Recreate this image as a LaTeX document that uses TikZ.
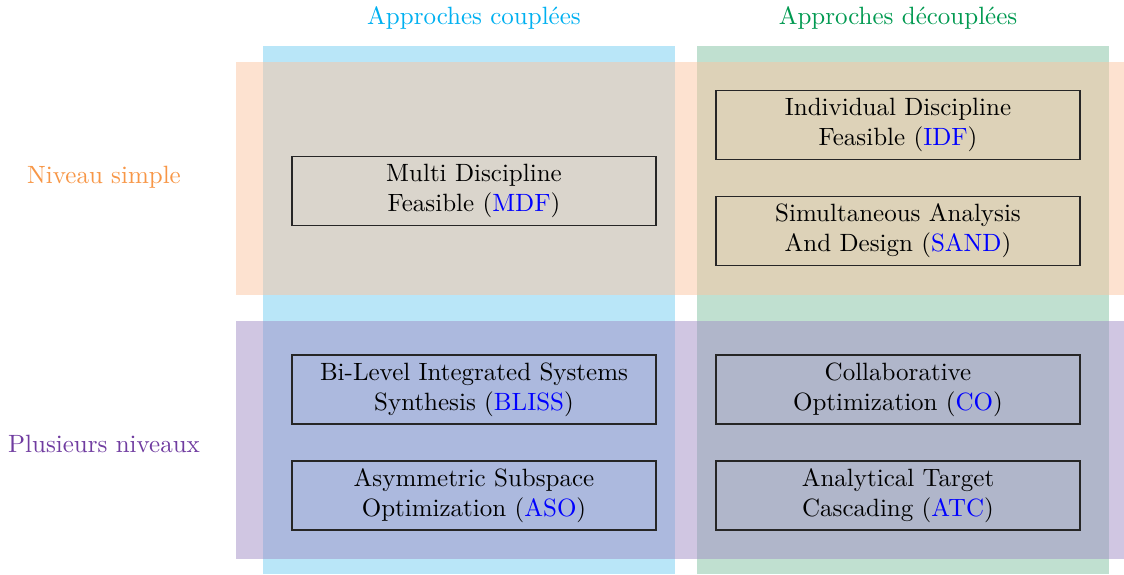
\documentclass[tikz,border=0pt]{standalone}
\usepackage{fontspec}
\usepackage{tikz}
\usetikzlibrary{positioning}
\definecolor{coupledcol}{RGB}{185,230,248}
\definecolor{decoupledcol}{RGB}{192,224,208}
\definecolor{simplecol}{RGB}{251,197,161}
\definecolor{multicol}{RGB}{161,141,197}
\definecolor{coupledtxt}{RGB}{0,176,240}
\definecolor{decoupledtxt}{RGB}{0,153,80}
\definecolor{simpletxt}{RGB}{247,150,70}
\definecolor{multitxt}{RGB}{112,60,160}
\newcommand{\acro}[1]{\textcolor{blue}{#1}}
\tikzset{
    % box of one method
    method/.style={
           draw=black!85,
           line width=0.5pt,
           text width=139.6pt,
           inner sep=3pt,
           minimum height=26.4pt,
           align=center},
    % band over the grid
    band/.style={fill opacity=0.5}
}
\begin{document}
\begin{tikzpicture}[x=0.4pt,y=-0.4pt]
\useasboundingbox (0,0) rectangle (1124,574);

\fill[coupledcol] (263,46) rectangle (675,574);
\fill[decoupledcol] (697,46) rectangle (1109,574);
\fill[simplecol, band] (236,62) rectangle (1124,295);
\fill[multicol, band] (236,321) rectangle (1124,559);

\node[text=coupledtxt] (coupled) at (474,18) {Approches coupl\'ees};
\node[text=decoupledtxt] (decoupled) at (898,18) {Approches d\'ecoupl\'ees};
\node[text=simpletxt] (simple) at (104,177) {Niveau simple};
\node[text=multitxt] (multi) at (104,444) {Plusieurs niveaux};

\node[method] (mdf) at (474,191) {Multi Discipline\\Feasible (\acro{MDF})};
\node[method] (idf) at (898,125) {Individual Discipline\\Feasible (\acro{IDF})};
\node[method, minimum height=27.2pt] (sand) at (898,231) {Simultaneous Analysis\\And Design (\acro{SAND})};

\node[method] (bliss) at (474,389.5) {Bi-Level Integrated Systems\\Synthesis (\acro{BLISS})};
\node[method] (aso) at (474,495.5) {Asymmetric Subspace\\Optimization (\acro{ASO})};
\node[method] (co) at (898,389.5) {Collaborative\\Optimization (\acro{CO})};
\node[method] (atc) at (898,495.5) {Analytical Target\\Cascading (\acro{ATC})};
\end{tikzpicture}
\end{document}
